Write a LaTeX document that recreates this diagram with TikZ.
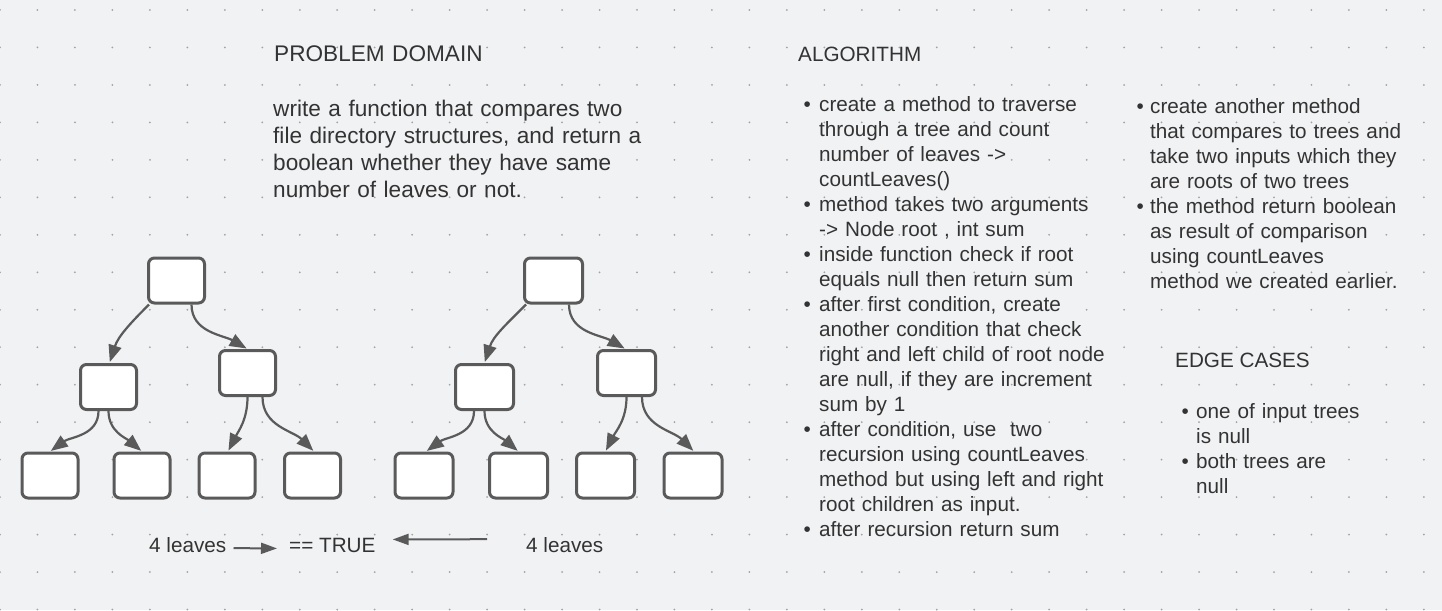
\documentclass[tikz,border=0pt]{standalone}
\usepackage{fontspec}
\setmainfont{Liberation Sans}
\usetikzlibrary{arrows.meta,positioning}

\definecolor{bgc}{HTML}{F1F2F4}
\definecolor{dotc}{HTML}{A3A3A3}
\definecolor{linec}{HTML}{5A5A5A}
\definecolor{txtc}{HTML}{333333}

\begin{document}
\begin{tikzpicture}[
    x=1pt, y=1pt,
    treenode/.style={rectangle, rounded corners=6pt, draw=linec, line width=3pt, fill=white, minimum width=56pt, minimum height=45pt, inner sep=0pt},
    edge/.style={-{Triangle[length=17pt,width=13pt]}, color=linec, line width=2.2pt, shorten >=1pt},
    flow/.style={-{Triangle[length=16pt,width=11pt]}, color=linec, line width=2pt},
    label/.style={anchor=base west, inner sep=0pt, text=txtc, font=\fontsize{20.7}{25}\selectfont},
    body/.style={label, align=left, text width=300pt},
    bigtext/.style={anchor=base west, inner sep=0pt, text=txtc, align=left, text width=400pt, font=\fontsize{22.6}{27.2}\selectfont},
    bul/.style={label}
  ]

  % Canvas
  \useasboundingbox (0,0) rectangle (1442,-610);
  \fill[bgc] (0,0) rectangle (1442,-610);
  \foreach \i in {0,...,38} {
    \foreach \j in {0,...,16} {
      \fill[dotc] (\i*37.47, -10-\j*37.47) circle (1pt);
    }
  }

  % Problem domain
  \node[bigtext] (pdtitle) at (274,-62) {PROBLEM DOMAIN};
  \node[bigtext] (pdtext) at (273,-116) {write a function that compares two\\file directory structures, and return a\\boolean whether they have same\\number of leaves or not.};

  % Tree 1
  \node[treenode] (root1) at (176.5,-280.5) {};
  \node[treenode] (left1) at (108.5,-387) {};
  \node[treenode] (right1) at (247.5,-373) {};
  \node[treenode] (ll1) at (50,-475.5) {};
  \node[treenode] (lr1) at (142,-475.5) {};
  \node[treenode] (rl1) at (227,-475.5) {};
  \node[treenode] (rr1) at (312.5,-475.5) {};

  \draw[edge] ([xshift=2pt]root1.south west) to[out=-135,in=72] ([xshift=1pt]left1.north);
  \draw[edge] ([xshift=15pt]root1.south) to[out=-90,in=150] (right1.north);
  \draw[edge] ([xshift=-10pt]left1.south) to[out=-90,in=36] (ll1.north);
  \draw[edge] (left1.south) to[out=-90,in=140] (lr1.north);
  \draw[edge] (right1.south) to[out=-90,in=63] ([xshift=1pt]rl1.north);
  \draw[edge] ([xshift=15pt]right1.south) to[out=-90,in=135] ([xshift=1.5pt]rr1.north);

  % Tree 2
  \node[treenode, minimum width=58pt] (root2) at (553.5,-280.5) {};
  \node[treenode, minimum width=58pt] (left2) at (484.5,-387) {};
  \node[treenode, minimum width=58pt] (right2) at (626.5,-373) {};
  \node[treenode, minimum width=58pt] (ll2) at (424,-475.5) {};
  \node[treenode, minimum width=58pt] (lr2) at (518.5,-475.5) {};
  \node[treenode, minimum width=58pt] (rl2) at (605.5,-475.5) {};
  \node[treenode, minimum width=58pt] (rr2) at (693,-475.5) {};

  \draw[edge] ([xshift=3pt]root2.south west) to[out=-135,in=72] (left2.north);
  \draw[edge] ([xshift=15.5pt]root2.south) to[out=-90,in=150] ([xshift=-1pt]right2.north);
  \draw[edge] ([xshift=-10.5pt]left2.south) to[out=-90,in=36] ([xshift=2pt]ll2.north);
  \draw[edge] (left2.south) to[out=-90,in=140] (lr2.north);
  \draw[edge] (right2.south) to[out=-90,in=63] (rl2.north);
  \draw[edge] ([xshift=15.5pt]right2.south) to[out=-90,in=135] ([xshift=1pt]rr2.north);

  % Comparison
  \node[label] (leaves1) at (149,-552) {4 leaves};
  \node[label] (result) at (289,-552) {== TRUE};
  \node[label] (leaves2) at (526,-552) {4 leaves};
  \draw[flow, shorten <=7pt, shorten >=12pt] ([yshift=-3.5pt]leaves1.east) -- ([yshift=-3.5pt]result.west);
  \draw[flow, shorten <=39pt, shorten >=17pt] ([yshift=5.5pt]leaves2.west) -- ([yshift=5.5pt]result.east);

  % Algorithm
  \node[label] (algtitle) at (798,-61) {ALGORITHM};
  \node[bul] (b1) at (803.5,-111) {•};
  \node[body] (alg1) at (819,-111) {create a method to traverse\\through a tree and count\\number of leaves ->\\countLeaves()};
  \node[bul] (b2) at (803.5,-211) {•};
  \node[body] (alg2) at (819,-211) {method takes two arguments\\-> Node root , int sum};
  \node[bul] (b3) at (803.5,-261) {•};
  \node[body] (alg3) at (819,-261) {inside function check if root\\equals null then return sum};
  \node[bul] (b4) at (803.5,-311) {•};
  \node[body] (alg4) at (819,-311) {after first condition, create\\another condition that check\\right and left child of root node\\are null, if they are increment\\sum by 1};
  \node[bul] (b5) at (803.5,-436) {•};
  \node[body] (alg5) at (819,-436) {after condition, use~ two\\recursion using countLeaves\\method but using left and right\\root children as input.};
  \node[bul] (b6) at (803.5,-536) {•};
  \node[body] (alg6) at (819,-536) {after recursion return sum};

  \node[bul] (b7) at (1136.5,-113) {•};
  \node[body] (alg7) at (1150,-113) {create another method\\that compares to trees and\\take two inputs which they\\are roots of two trees};
  \node[bul] (b8) at (1136.5,-213) {•};
  \node[body] (alg8) at (1150,-213) {the method return boolean\\as result of comparison\\using countLeaves\\method we created earlier.};

  % Edge cases
  \node[label] (edgetitle) at (1175,-367) {EDGE CASES};
  \node[bul] (b9) at (1181.5,-418) {•};
  \node[body] (edge1) at (1196,-418) {one of input trees\\is null};
  \node[bul] (b10) at (1181.5,-468) {•};
  \node[body] (edge2) at (1196,-468) {both trees are\\null};

\end{tikzpicture}
\end{document}
